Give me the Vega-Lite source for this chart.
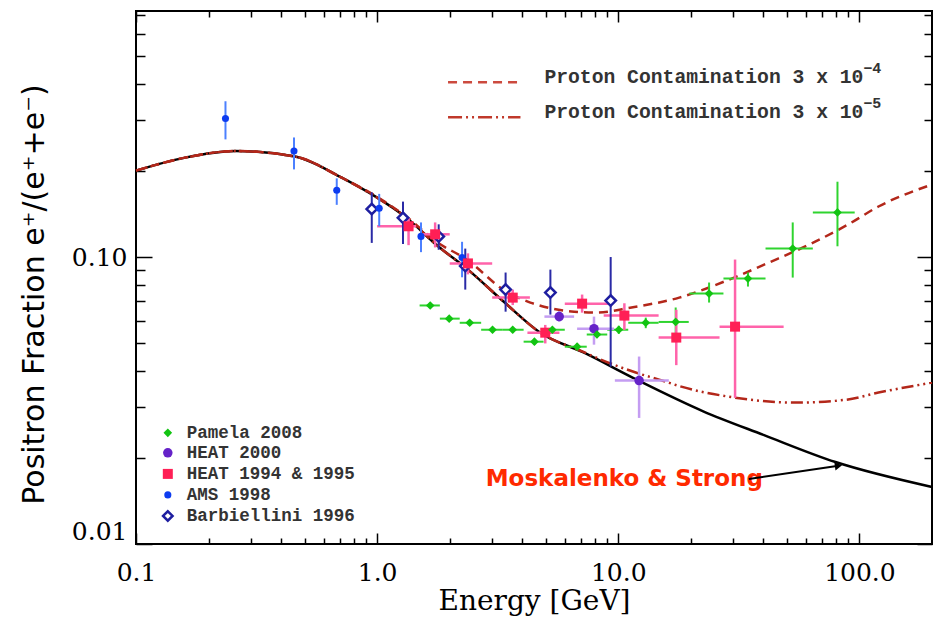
{
 "$schema": "https://vega.github.io/schema/vega-lite/v6.json",
 "width": 796,
 "height": 533,
 "autosize": {"type": "none"},
 "padding": {"left": 136, "top": 11, "right": 5, "bottom": 85},
 "background": "white",
 "config": {
  "view": {"stroke": "black", "strokeWidth": 2},
  "axis": {"grid": false, "domain": false, "tickColor": "black", "tickWidth": 1.5, "labelFont": "DejaVu Serif", "labelFontSize": 25, "labelColor": "black", "titleColor": "black"}
 },
 "datasets": {
  "curve": [
   {"E": 0.1, "F": 0.2}, {"E": 0.16, "F": 0.222}, {"E": 0.258, "F": 0.234}, {"E": 0.456, "F": 0.224},
   {"E": 0.713, "F": 0.189}, {"E": 1.0, "F": 0.161}, {"E": 1.31, "F": 0.138}, {"E": 1.79, "F": 0.109},
   {"E": 2.38, "F": 0.0904}, {"E": 3.38, "F": 0.0694}, {"E": 4.75, "F": 0.0545}, {"E": 7.21, "F": 0.0464},
   {"E": 11.9, "F": 0.0374}, {"E": 22.5, "F": 0.029}, {"E": 40, "F": 0.024}, {"E": 79.6, "F": 0.0193}, {"E": 200, "F": 0.0158}
  ],
  "p4": [
   {"E": 0.1, "F": 0.2}, {"E": 0.16, "F": 0.222}, {"E": 0.258, "F": 0.234}, {"E": 0.456, "F": 0.224},
   {"E": 0.713, "F": 0.189}, {"E": 1.0, "F": 0.162}, {"E": 1.31, "F": 0.139}, {"E": 1.79, "F": 0.112},
   {"E": 2.31, "F": 0.099}, {"E": 3.48, "F": 0.0752}, {"E": 4.32, "F": 0.0694}, {"E": 6.56, "F": 0.0645},
   {"E": 8.16, "F": 0.064}, {"E": 11.2, "F": 0.0666}, {"E": 17.9, "F": 0.0722}, {"E": 28.8, "F": 0.0834},
   {"E": 42.2, "F": 0.0957}, {"E": 64, "F": 0.112}, {"E": 90, "F": 0.13}, {"E": 120, "F": 0.15}, {"E": 200, "F": 0.179}
  ],
  "p5": [
   {"E": 0.1, "F": 0.2}, {"E": 0.16, "F": 0.222}, {"E": 0.258, "F": 0.234}, {"E": 0.456, "F": 0.224},
   {"E": 0.713, "F": 0.189}, {"E": 1.0, "F": 0.161}, {"E": 1.31, "F": 0.138}, {"E": 1.79, "F": 0.109},
   {"E": 2.38, "F": 0.0904}, {"E": 3.38, "F": 0.0694}, {"E": 4.75, "F": 0.0545}, {"E": 7.21, "F": 0.0466},
   {"E": 8.16, "F": 0.0445}, {"E": 11.9, "F": 0.0395}, {"E": 15.4, "F": 0.037}, {"E": 17.9, "F": 0.0355},
   {"E": 28.8, "F": 0.0326}, {"E": 54.5, "F": 0.0311}, {"E": 87.5, "F": 0.0318}, {"E": 120, "F": 0.0337}, {"E": 200, "F": 0.0365}
  ],
  "pamela": [
   {"E": 1.66, "F": 0.0678, "Elo": 1.5, "Ehi": 1.82, "Flo": 0.0665, "Fhi": 0.0691},
   {"E": 1.99, "F": 0.061, "Elo": 1.82, "Ehi": 2.2, "Flo": 0.0598, "Fhi": 0.0622},
   {"E": 2.42, "F": 0.059, "Elo": 2.2, "Ehi": 2.7, "Flo": 0.0578, "Fhi": 0.0602},
   {"E": 3.01, "F": 0.0558, "Elo": 2.7, "Ehi": 3.3, "Flo": 0.0546, "Fhi": 0.057},
   {"E": 3.65, "F": 0.0558, "Elo": 3.3, "Ehi": 4.05, "Flo": 0.0546, "Fhi": 0.057},
   {"E": 4.49, "F": 0.0507, "Elo": 4.05, "Ehi": 4.9, "Flo": 0.0495, "Fhi": 0.0519},
   {"E": 5.33, "F": 0.0558, "Elo": 4.9, "Ehi": 6.0, "Flo": 0.0545, "Fhi": 0.0571},
   {"E": 6.75, "F": 0.0487, "Elo": 6.0, "Ehi": 7.4, "Flo": 0.0474, "Fhi": 0.05},
   {"E": 8.16, "F": 0.0537, "Elo": 7.4, "Ehi": 9.0, "Flo": 0.0522, "Fhi": 0.0552},
   {"E": 10.05, "F": 0.0558, "Elo": 9.0, "Ehi": 11.0, "Flo": 0.054, "Fhi": 0.0576},
   {"E": 13.0, "F": 0.059, "Elo": 11.0, "Ehi": 14.7, "Flo": 0.0565, "Fhi": 0.0615},
   {"E": 17.3, "F": 0.0594, "Elo": 14.7, "Ehi": 19.6, "Flo": 0.0528, "Fhi": 0.0667},
   {"E": 23.8, "F": 0.0746, "Elo": 19.7, "Ehi": 27.3, "Flo": 0.0694, "Fhi": 0.0815},
   {"E": 34.5, "F": 0.0841, "Elo": 27.3, "Ehi": 40.8, "Flo": 0.0789, "Fhi": 0.0883},
   {"E": 52.9, "F": 0.107, "Elo": 40.8, "Ehi": 64.1, "Flo": 0.0848, "Fhi": 0.132},
   {"E": 81.1, "F": 0.143, "Elo": 64.1, "Ehi": 95.6, "Flo": 0.109, "Fhi": 0.183}
  ],
  "heat9495": [
   {"E": 1.35, "F": 0.128, "Elo": 1.0, "Ehi": 1.45, "Flo": 0.11, "Fhi": 0.137},
   {"E": 1.74, "F": 0.12, "Elo": 1.52, "Ehi": 2.0, "Flo": 0.108, "Fhi": 0.132},
   {"E": 2.38, "F": 0.095, "Elo": 2.0, "Ehi": 3.0, "Flo": 0.087, "Fhi": 0.103},
   {"E": 3.65, "F": 0.0722, "Elo": 3.0, "Ehi": 4.3, "Flo": 0.068, "Fhi": 0.077},
   {"E": 4.98, "F": 0.0545, "Elo": 4.2, "Ehi": 5.7, "Flo": 0.05, "Fhi": 0.058},
   {"E": 7.08, "F": 0.0688, "Elo": 6.0, "Ehi": 9.2, "Flo": 0.064, "Fhi": 0.074},
   {"E": 10.6, "F": 0.0625, "Elo": 8.7, "Ehi": 14.7, "Flo": 0.0557, "Fhi": 0.069},
   {"E": 17.4, "F": 0.0524, "Elo": 14.7, "Ehi": 26.3, "Flo": 0.042, "Fhi": 0.0655},
   {"E": 30.5, "F": 0.0572, "Elo": 26.3, "Ehi": 48.5, "Flo": 0.0323, "Fhi": 0.098}
  ],
  "heat00": [
   {"E": 5.69, "F": 0.062, "Elo": 4.94, "Ehi": 6.56, "Flo": 0.0595, "Fhi": 0.0648},
   {"E": 7.93, "F": 0.0563, "Elo": 6.75, "Ehi": 9.6, "Flo": 0.0495, "Fhi": 0.062},
   {"E": 12.2, "F": 0.0371, "Elo": 9.68, "Ehi": 16.2, "Flo": 0.0275, "Fhi": 0.045}
  ],
  "ams": [
   {"E": 0.235, "F": 0.304, "Flo": 0.257, "Fhi": 0.349},
   {"E": 0.452, "F": 0.234, "Flo": 0.202, "Fhi": 0.261},
   {"E": 0.68, "F": 0.171, "Flo": 0.152, "Fhi": 0.188},
   {"E": 1.02, "F": 0.148, "Flo": 0.128, "Fhi": 0.166},
   {"E": 1.52, "F": 0.118, "Flo": 0.104, "Fhi": 0.132},
   {"E": 2.25, "F": 0.0996, "Flo": 0.085, "Fhi": 0.113}
  ],
  "barb": [
   {"E": 0.95, "F": 0.147, "Flo": 0.112, "Fhi": 0.168},
   {"E": 1.28, "F": 0.137, "Flo": 0.111, "Fhi": 0.156},
   {"E": 1.8, "F": 0.118, "Flo": 0.106, "Fhi": 0.13},
   {"E": 2.32, "F": 0.093, "Flo": 0.077, "Fhi": 0.107},
   {"E": 3.41, "F": 0.077, "Flo": 0.0645, "Fhi": 0.0883},
   {"E": 5.23, "F": 0.0752, "Flo": 0.063, "Fhi": 0.0904},
   {"E": 9.3, "F": 0.0705, "Flo": 0.0415, "Fhi": 0.1}
  ],
  "legend": [
   {"series": "pamela", "label": "Pamela 2008", "E": 0.1355, "F": 0.0244},
   {"series": "heat00", "label": "HEAT 2000", "E": 0.1355, "F": 0.02078},
   {"series": "heat9495", "label": "HEAT 1994 & 1995", "E": 0.1355, "F": 0.01755},
   {"series": "ams", "label": "AMS 1998", "E": 0.1355, "F": 0.01483},
   {"series": "barb", "label": "Barbiellini 1996", "E": 0.1355, "F": 0.01252}
  ],
  "keys": [
   {"key": "p4", "E": 1.968, "F": 0.4065}, {"key": "p4", "E": 3.93, "F": 0.4065},
   {"key": "p5", "E": 1.968, "F": 0.307}, {"key": "p5", "E": 3.93, "F": 0.307}
  ],
  "notes": [
   {"kind": "key", "text": "Proton Contamination 3 x 10", "E": 4.94, "F": 0.423},
   {"kind": "key", "text": "Proton Contamination 3 x 10", "E": 4.94, "F": 0.319},
   {"kind": "sup", "text": "−4", "E": 103.8, "F": 0.455},
   {"kind": "sup", "text": "−5", "E": 103.8, "F": 0.343},
   {"kind": "model", "text": "Moskalenko & Strong", "E": 2.82, "F": 0.0168}
  ],
  "arrow": [{"E": 34.8, "F": 0.01686, "E2": 81.9, "F2": 0.01872}]
 },
 "layer": [
  {
   "data": {"name": "curve"},
   "mark": {"type": "line", "color": "black", "strokeWidth": 2.5, "interpolate": "monotone"},
   "encoding": {
    "x": {"field": "E", "type": "quantitative", "scale": {"type": "log", "domain": [0.1, 200], "nice": false},
          "axis": {"orient": "bottom", "values": [0.1, 1, 10, 100], "format": ".1f", "tickSize": -11, "labelPadding": 27, "labelFlush": false,
                   "title": "Energy [GeV]", "titleFont": "DejaVu Serif", "titleFontSize": 28, "titleFontWeight": "normal", "titlePadding": 2}},
    "y": {"field": "F", "type": "quantitative", "scale": {"type": "log", "domain": [0.01, 0.72], "nice": false},
          "axis": {"orient": "left", "values": [0.01, 0.1], "format": ".2f", "tickSize": -16, "labelPadding": 25, "labelFlush": true,
                   "title": "Positron Fraction e⁺/(e⁺+e⁻)", "titleFont": "DejaVu Sans", "titleFontSize": 30, "titleFontWeight": "normal", "titlePadding": 22, "titleY": 283}}
   }
  },
  {
   "data": {"name": "p4"},
   "mark": {"type": "line", "color": "#b3271a", "strokeWidth": 2.5, "strokeDash": [9, 6], "interpolate": "monotone"},
   "encoding": {
    "x": {"field": "E", "type": "quantitative", "scale": {"type": "log", "domain": [0.1, 200], "nice": false},
          "axis": {"orient": "bottom", "values": [0.2, 0.3, 0.4, 0.5, 0.6, 0.7, 0.8, 0.9, 2, 3, 4, 5, 6, 7, 8, 9, 20, 30, 40, 50, 60, 70, 80, 90], "labels": false, "tickSize": -6, "title": null}},
    "y": {"field": "F", "type": "quantitative", "scale": {"type": "log", "domain": [0.01, 0.72], "nice": false},
          "axis": {"orient": "left", "values": [0.02, 0.03, 0.04, 0.05, 0.06, 0.07, 0.08, 0.09, 0.2, 0.3, 0.4, 0.5, 0.6, 0.7], "labels": false, "tickSize": -9, "title": null}}
   }
  },
  {
   "data": {"name": "p5"},
   "mark": {"type": "line", "color": "#b3271a", "strokeWidth": 2.5, "strokeDash": [12, 4, 2, 4, 2, 4], "interpolate": "monotone"},
   "encoding": {
    "x": {"field": "E", "type": "quantitative", "scale": {"type": "log", "domain": [0.1, 200], "nice": false},
          "axis": {"orient": "top", "values": [0.1, 1, 10, 100], "labels": false, "tickSize": -11, "title": null}},
    "y": {"field": "F", "type": "quantitative", "scale": {"type": "log", "domain": [0.01, 0.72], "nice": false},
          "axis": {"orient": "right", "values": [0.01, 0.1], "labels": false, "tickSize": -15, "title": null}}
   }
  },
  {
   "data": {"name": "pamela"},
   "mark": {"type": "rule", "color": "#2fd42f", "strokeWidth": 2},
   "encoding": {
    "x": {"field": "Elo", "type": "quantitative", "scale": {"type": "log", "domain": [0.1, 200], "nice": false},
          "axis": {"orient": "top", "values": [0.2, 0.3, 0.4, 0.5, 0.6, 0.7, 0.8, 0.9, 2, 3, 4, 5, 6, 7, 8, 9, 20, 30, 40, 50, 60, 70, 80, 90], "labels": false, "tickSize": -6, "title": null}},
    "x2": {"field": "Ehi"},
    "y": {"field": "F", "type": "quantitative", "scale": {"type": "log", "domain": [0.01, 0.72], "nice": false},
          "axis": {"orient": "right", "values": [0.02, 0.03, 0.04, 0.05, 0.06, 0.07, 0.08, 0.09, 0.2, 0.3, 0.4, 0.5, 0.6, 0.7], "labels": false, "tickSize": -8, "title": null}}
   }
  },
  {
   "data": {"name": "pamela"},
   "mark": {"type": "rule", "color": "#2fd42f", "strokeWidth": 2},
   "encoding": {
    "x": {"field": "E", "type": "quantitative", "axis": null},
    "y": {"field": "Flo", "type": "quantitative", "axis": null},
    "y2": {"field": "Fhi"}
   }
  },
  {
   "data": {"name": "heat9495"},
   "mark": {"type": "rule", "color": "#ff63aa", "strokeWidth": 2.5},
   "encoding": {
    "x": {"field": "Elo", "type": "quantitative", "axis": null},
    "x2": {"field": "Ehi"},
    "y": {"field": "F", "type": "quantitative", "axis": null}
   }
  },
  {
   "data": {"name": "heat9495"},
   "mark": {"type": "rule", "color": "#ff63aa", "strokeWidth": 2.5},
   "encoding": {
    "x": {"field": "E", "type": "quantitative", "axis": null},
    "y": {"field": "Flo", "type": "quantitative", "axis": null},
    "y2": {"field": "Fhi"}
   }
  },
  {
   "data": {"name": "heat00"},
   "mark": {"type": "rule", "color": "#c49df2", "strokeWidth": 2.5},
   "encoding": {
    "x": {"field": "Elo", "type": "quantitative", "axis": null},
    "x2": {"field": "Ehi"},
    "y": {"field": "F", "type": "quantitative", "axis": null}
   }
  },
  {
   "data": {"name": "heat00"},
   "mark": {"type": "rule", "color": "#c49df2", "strokeWidth": 2.5},
   "encoding": {
    "x": {"field": "E", "type": "quantitative", "axis": null},
    "y": {"field": "Flo", "type": "quantitative", "axis": null},
    "y2": {"field": "Fhi"}
   }
  },
  {
   "data": {"name": "ams"},
   "mark": {"type": "rule", "color": "#4c80ff", "strokeWidth": 2},
   "encoding": {
    "x": {"field": "E", "type": "quantitative", "axis": null},
    "y": {"field": "Flo", "type": "quantitative", "axis": null},
    "y2": {"field": "Fhi"}
   }
  },
  {
   "data": {"name": "barb"},
   "mark": {"type": "rule", "color": "#2a2aa6", "strokeWidth": 2},
   "encoding": {
    "x": {"field": "E", "type": "quantitative", "axis": null},
    "y": {"field": "Flo", "type": "quantitative", "axis": null},
    "y2": {"field": "Fhi"}
   }
  },
  {
   "data": {"name": "barb"},
   "mark": {"type": "point", "shape": "diamond", "filled": false, "fill": "white", "fillOpacity": 1, "stroke": "#1e1ea0", "strokeWidth": 2.5, "size": 110, "opacity": 1},
   "encoding": {
    "x": {"field": "E", "type": "quantitative", "axis": null},
    "y": {"field": "F", "type": "quantitative", "axis": null}
   }
  },
  {
   "data": {"name": "ams"},
   "mark": {"type": "point", "shape": "circle", "filled": true, "color": "#0d3cf0", "size": 50, "opacity": 1},
   "encoding": {
    "x": {"field": "E", "type": "quantitative", "axis": null},
    "y": {"field": "F", "type": "quantitative", "axis": null}
   }
  },
  {
   "data": {"name": "heat9495"},
   "mark": {"type": "point", "shape": "square", "filled": true, "color": "#ff1f55", "size": 100, "opacity": 1},
   "encoding": {
    "x": {"field": "E", "type": "quantitative", "axis": null},
    "y": {"field": "F", "type": "quantitative", "axis": null}
   }
  },
  {
   "data": {"name": "heat00"},
   "mark": {"type": "point", "shape": "circle", "filled": true, "color": "#6522c8", "size": 90, "opacity": 1},
   "encoding": {
    "x": {"field": "E", "type": "quantitative", "axis": null},
    "y": {"field": "F", "type": "quantitative", "axis": null}
   }
  },
  {
   "data": {"name": "pamela"},
   "mark": {"type": "point", "shape": "diamond", "filled": true, "color": "#12c412", "size": 75, "opacity": 1},
   "encoding": {
    "x": {"field": "E", "type": "quantitative", "axis": null},
    "y": {"field": "F", "type": "quantitative", "axis": null}
   }
  },
  {
   "data": {"name": "legend"},
   "transform": [{"filter": "datum.series === 'pamela'"}],
   "mark": {"type": "point", "shape": "diamond", "filled": true, "color": "#12c412", "size": 75, "opacity": 1},
   "encoding": {"x": {"field": "E", "type": "quantitative", "axis": null}, "y": {"field": "F", "type": "quantitative", "axis": null}}
  },
  {
   "data": {"name": "legend"},
   "transform": [{"filter": "datum.series === 'heat00'"}],
   "mark": {"type": "point", "shape": "circle", "filled": true, "color": "#6522c8", "size": 90, "opacity": 1},
   "encoding": {"x": {"field": "E", "type": "quantitative", "axis": null}, "y": {"field": "F", "type": "quantitative", "axis": null}}
  },
  {
   "data": {"name": "legend"},
   "transform": [{"filter": "datum.series === 'heat9495'"}],
   "mark": {"type": "point", "shape": "square", "filled": true, "color": "#ff1f55", "size": 100, "opacity": 1},
   "encoding": {"x": {"field": "E", "type": "quantitative", "axis": null}, "y": {"field": "F", "type": "quantitative", "axis": null}}
  },
  {
   "data": {"name": "legend"},
   "transform": [{"filter": "datum.series === 'ams'"}],
   "mark": {"type": "point", "shape": "circle", "filled": true, "color": "#0d3cf0", "size": 50, "opacity": 1},
   "encoding": {"x": {"field": "E", "type": "quantitative", "axis": null}, "y": {"field": "F", "type": "quantitative", "axis": null}}
  },
  {
   "data": {"name": "legend"},
   "transform": [{"filter": "datum.series === 'barb'"}],
   "mark": {"type": "point", "shape": "diamond", "filled": false, "fill": "white", "fillOpacity": 1, "stroke": "#1e1ea0", "strokeWidth": 2.5, "size": 90, "opacity": 1},
   "encoding": {"x": {"field": "E", "type": "quantitative", "axis": null}, "y": {"field": "F", "type": "quantitative", "axis": null}}
  },
  {
   "data": {"name": "legend"},
   "mark": {"type": "text", "align": "left", "baseline": "middle", "dx": 19, "font": "Liberation Mono", "fontWeight": "bold", "fontSize": 17.5, "color": "#333333"},
   "encoding": {"x": {"field": "E", "type": "quantitative", "axis": null}, "y": {"field": "F", "type": "quantitative", "axis": null}, "text": {"field": "label"}}
  },
  {
   "data": {"name": "keys"},
   "transform": [{"filter": "datum.key === 'p4'"}],
   "mark": {"type": "line", "color": "#cc4a3e", "strokeWidth": 2.5, "strokeDash": [9, 6]},
   "encoding": {"x": {"field": "E", "type": "quantitative", "axis": null}, "y": {"field": "F", "type": "quantitative", "axis": null}}
  },
  {
   "data": {"name": "keys"},
   "transform": [{"filter": "datum.key === 'p5'"}],
   "mark": {"type": "line", "color": "#c0392b", "strokeWidth": 2.5, "strokeDash": [14, 4, 2, 4, 2, 4]},
   "encoding": {"x": {"field": "E", "type": "quantitative", "axis": null}, "y": {"field": "F", "type": "quantitative", "axis": null}}
  },
  {
   "data": {"name": "notes"},
   "transform": [{"filter": "datum.kind === 'key'"}],
   "mark": {"type": "text", "align": "left", "baseline": "middle", "font": "Liberation Mono", "fontWeight": "bold", "fontSize": 19.7, "color": "#333333"},
   "encoding": {"x": {"field": "E", "type": "quantitative", "axis": null}, "y": {"field": "F", "type": "quantitative", "axis": null}, "text": {"field": "text"}}
  },
  {
   "data": {"name": "notes"},
   "transform": [{"filter": "datum.kind === 'sup'"}],
   "mark": {"type": "text", "align": "left", "baseline": "middle", "font": "Liberation Mono", "fontWeight": "bold", "fontSize": 15, "color": "#333333"},
   "encoding": {"x": {"field": "E", "type": "quantitative", "axis": null}, "y": {"field": "F", "type": "quantitative", "axis": null}, "text": {"field": "text"}}
  },
  {
   "data": {"name": "notes"},
   "transform": [{"filter": "datum.kind === 'model'"}],
   "mark": {"type": "text", "align": "left", "baseline": "middle", "font": "DejaVu Sans", "fontWeight": "bold", "fontSize": 23, "color": "#ff2a00"},
   "encoding": {"x": {"field": "E", "type": "quantitative", "axis": null}, "y": {"field": "F", "type": "quantitative", "axis": null}, "text": {"field": "text"}}
  },
  {
   "data": {"name": "arrow"},
   "mark": {"type": "rule", "color": "black", "strokeWidth": 2},
   "encoding": {
    "x": {"field": "E", "type": "quantitative", "axis": null},
    "y": {"field": "F", "type": "quantitative", "axis": null},
    "x2": {"field": "E2"},
    "y2": {"field": "F2"}
   }
  },
  {
   "data": {"name": "arrow"},
   "mark": {"type": "point", "shape": "triangle-right", "filled": true, "color": "black", "size": 70, "angle": -8, "opacity": 1},
   "encoding": {"x": {"field": "E2", "type": "quantitative", "axis": null}, "y": {"field": "F2", "type": "quantitative", "axis": null}}
  }
 ],
 "resolve": {"axis": {"x": "independent", "y": "independent"}}
}
